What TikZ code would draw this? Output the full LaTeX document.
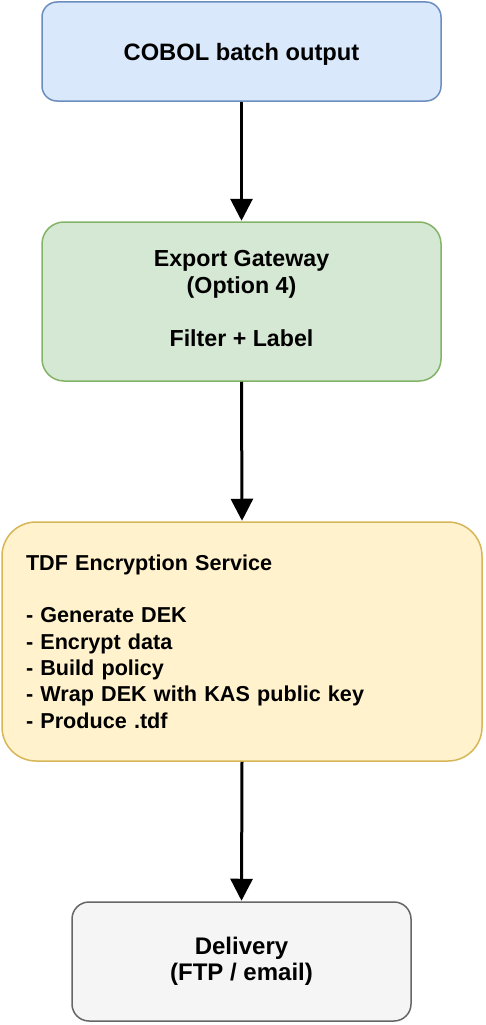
\documentclass[tikz,border=0pt]{standalone}
\usepackage{fontspec}
\setmainfont{Liberation Sans}
\usetikzlibrary{arrows.meta}
\definecolor{bluefill}{HTML}{DAE8FC}
\definecolor{bluedraw}{HTML}{6C8EBF}
\definecolor{greenfill}{HTML}{D5E8D4}
\definecolor{greendraw}{HTML}{82B366}
\definecolor{yellowfill}{HTML}{FFF2CC}
\definecolor{yellowdraw}{HTML}{D6B656}
\definecolor{grayfill}{HTML}{F5F5F5}
\definecolor{graydraw}{HTML}{666666}
\tikzset{
  box/.style={draw, line width=1.5pt, inner sep=0pt, align=center},
  flow/.style={line width=3pt, -{Triangle[width=22pt,length=22pt]}, shorten >=0.5pt}
}
\begin{document}
\begin{tikzpicture}[x=1pt,y=-1pt]
\useasboundingbox (0,0) rectangle (485,1025);
\node[box, fill=bluefill, draw=bluedraw, rounded corners=15pt,
  font=\bfseries\fontsize{23.7}{26.5}\selectfont, text depth=0pt,
  minimum width=399pt, minimum height=99pt] (cobol) at (241.5,51.5) {COBOL batch output};
\node[box, fill=greenfill, draw=greendraw, rounded corners=22pt,
  font=\bfseries\fontsize{23.2}{26.5}\selectfont, text depth=6pt,
  minimum width=399pt, minimum height=159pt] (gateway) at (241.5,301.5)
  {Export Gateway\\(Option 4)\\[26.5pt]Filter + Label};
\node[box, fill=yellowfill, draw=yellowdraw, rounded corners=34pt,
  font=\bfseries\fontsize{21.6}{26.3}\selectfont,
  minimum width=480pt, minimum height=239pt, text width=432pt, align=left] (tdf) at (242,641.5)
  {TDF Encryption Service\\[26.3pt]- Generate DEK\\- Encrypt data\\- Build policy\\- Wrap DEK with KAS public key\\- Produce .tdf};
\node[box, fill=grayfill, draw=graydraw, rounded corners=17pt,
  font=\bfseries\fontsize{24}{26.3}\selectfont,
  minimum width=339pt, minimum height=119pt] (delivery) at (241.5,961.5)
  {Delivery\\(FTP / email)};
\draw[flow] (cobol.south) -- (gateway.north);
\draw[flow] (gateway.south) -- (tdf.north);
\draw[flow] (tdf.south) -- (delivery.north);
\end{tikzpicture}
\end{document}
